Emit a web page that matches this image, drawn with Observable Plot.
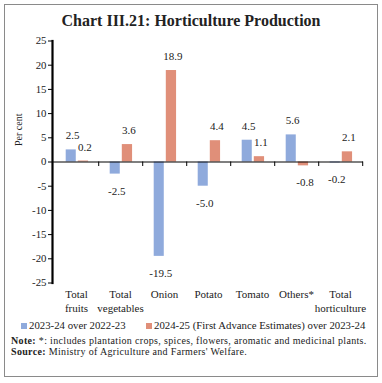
<!DOCTYPE html>
<html>
<head>
<meta charset="utf-8">
<script src="https://cdn.jsdelivr.net/npm/d3@7"></script>
<script src="https://cdn.jsdelivr.net/npm/@observablehq/plot@0.6"></script>
<style>
  html, body { margin: 0; padding: 0; background: #fff; }
  #wrap { position: relative; width: 382px; height: 383px; overflow: hidden; font-family: "Liberation Serif", "DejaVu Serif", serif; color: #222; }
  #border { position: absolute; left: 4px; top: 4px; width: 374px; height: 373px; box-sizing: border-box; border: 1.5px solid #8a8a8a; }
  #title { position: absolute; left: 0; width: 382px; top: 12px; text-align: center; font-weight: bold; font-size: 16px; color: #222; }
  #chart { position: absolute; left: 0; top: 0; }
  #legend { position: absolute; top: 319px; left: 0; width: 382px; font-size: 10.8px; }
  .sw { display: inline-block; width: 6px; height: 6px; margin-right: 2px; vertical-align: 0px; }
  .li { position: absolute; white-space: nowrap; }
  #notes { position: absolute; left: 11px; top: 336px; font-size: 10px; line-height: 10.5px; white-space: nowrap; letter-spacing: 0.33px; }
</style>
</head>
<body>
<div id="wrap">
  <div id="border"></div>
  <div id="title">Chart III.21: Horticulture Production</div>
  <div id="chart"></div>
  <div id="legend"></div>
  <div id="notes">
    <div><b>Note:</b> *: includes plantation crops, spices, flowers, aromatic and medicinal plants.</div>
    <div><b>Source:</b> Ministry of Agriculture and Farmers' Welfare.</div>
  </div>
</div>
<script>
// ---- Data ----
const categories = ["Total\nfruits", "Total\nvegetables", "Onion", "Potato", "Tomato", "Others*", "Total\nhorticulture"];
const series2023 = [2.5, -2.5, -19.5, -5.0, 4.5, 5.6, -0.2];
const series2024 = [0.2, 3.6, 18.9, 4.4, 1.1, -0.8, 2.1];
const seriesNames = ["2023-24 over 2022-23", "2024-25 (First Advance Estimates) over 2023-24"];
const seriesColors = ["#8faadc", "#e08f79"];
const yTicks = [25, 20, 15, 10, 5, 0, -5, -10, -15, -20, -25];

// ---- Layout ----
const W = 382, H = 320, mL = 52, mR = 19, mT = 40.5, mB = 37.5;
const bw = (W - mL - mR) / categories.length;
const blueL = 11.7, blueR = 22.2, orL = 23.8, orR = 34.5;

const d1 = categories.map((c, i) => ({cat: c, v: series2023[i]}));
const d2 = categories.map((c, i) => ({cat: c, v: series2024[i]}));
const fmt = v => v.toFixed(1);
const labelFont = 11;

function labels(data, center) {
  const dx = center - bw / 2 + 1.5;
  return [
    Plot.text(data, {filter: d => d.v >= 0, x: "cat", y: "v", text: d => fmt(d.v), dx, dy: -14, fontSize: labelFont, fill: "#222"}),
    Plot.text(data, {filter: d => d.v < 0, x: "cat", y: "v", text: d => fmt(d.v), dx, dy: 17, fontSize: labelFont, fill: "#222"})
  ];
}

const chart = Plot.plot({
  width: W, height: H,
  marginLeft: mL, marginRight: mR, marginTop: mT, marginBottom: mB,
  style: {fontFamily: "'Liberation Serif', 'DejaVu Serif', serif", fontSize: "10px", background: "transparent", color: "#222"},
  x: {domain: categories, padding: 0, label: null},
  y: {domain: [-25, 25], label: null},
  marks: [
    Plot.barY(d1, {x: "cat", y: "v", fill: seriesColors[0], insetLeft: blueL, insetRight: bw - blueR}),
    Plot.barY(d2, {x: "cat", y: "v", fill: seriesColors[1], insetLeft: orL, insetRight: bw - orR}),
    Plot.ruleY([0], {stroke: "#000", strokeWidth: 1}),
    Plot.ruleX(categories, {x: d => d, y1: 0, y2: 0, insetBottom: -4.5, dx: bw / 2, stroke: "#000"}),
    ...labels(d1, (blueL + blueR) / 2),
    ...labels(d2, (orL + orR) / 2),
    Plot.frame({anchor: "left", stroke: "#000", strokeWidth: 2.2}),
    Plot.axisY({ticks: yTicks, tickFormat: d => String(d), tickSize: 4, tickPadding: 2, fontSize: 10.8, stroke: "#000", label: null}),
    Plot.axisX({tickSize: 0, tickPadding: 4, fontSize: 11, lineHeight: 1.35, label: null}),
    Plot.text(["Per cent"], {frameAnchor: "left", rotate: -90, dx: -34, dy: -16, fontSize: 10, fill: "#222"})
  ]
});
document.getElementById("chart").appendChild(chart);

// ---- Legend ----
const legend = document.getElementById("legend");
const legendX = [21, 146];
seriesNames.forEach((name, i) => {
  const item = document.createElement("div");
  item.className = "li";
  item.style.left = legendX[i] + "px";
  item.innerHTML = `<span class="sw" style="background:${seriesColors[i]}"></span>${name}`;
  legend.appendChild(item);
});
</script>
</body>
</html>
